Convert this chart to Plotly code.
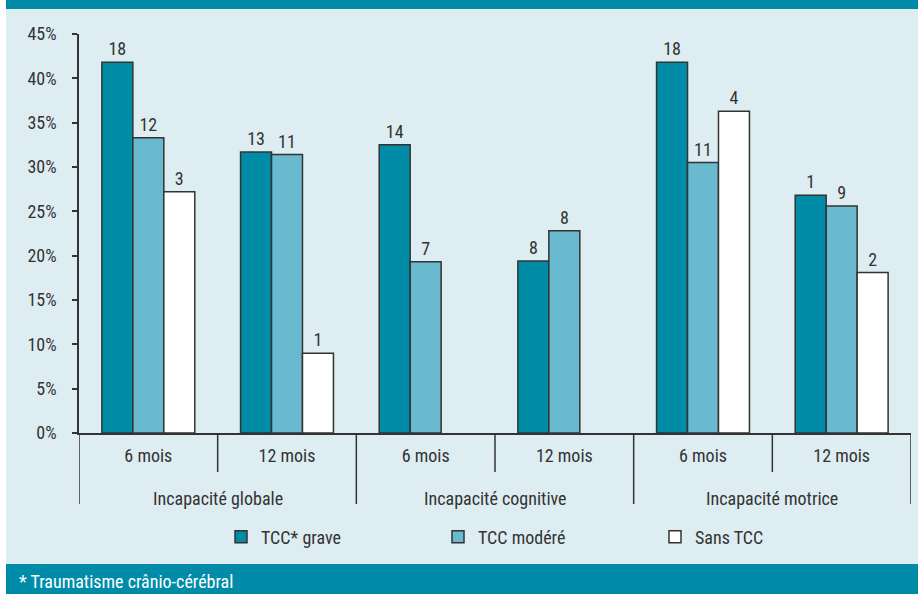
import plotly.graph_objects as go

group_names = ["Incapacité globale", "Incapacité cognitive", "Incapacité motrice"]
periods = ["6 mois", "12 mois", "6 mois", "12 mois", "6 mois", "12 mois"]
group_of = [0, 0, 1, 1, 2, 2]

series_names = ["TCC* grave", "TCC modéré", "Sans TCC"]
grave_pct = [41.8, 31.7, 32.5, 19.4, 41.8, 26.8]
modere_pct = [33.3, 31.4, 19.3, 22.8, 30.5, 25.6]
sans_pct = [27.2, 9.0, None, None, 36.3, 18.1]
grave_n = ["18", "13", "14", "8", "18", "1"]
modere_n = ["12", "11", "7", "8", "11", "9"]
sans_n = ["3", "1", "", "", "4", "2"]

footnote = "* Traumatisme crânio-cérébral"

TEAL = "#008ca8"
DARK = "#008ba6"
LIGHT = "#69b9cf"
BG = "#ddedf2"
TXT = "#333333"
FONT = "Roboto Condensed, Liberation Sans Narrow, Lato, sans-serif"
FS = 18

xs = list(range(len(periods)))

fig = go.Figure()
for name, vals, labels, color in [
    (series_names[0], grave_pct, grave_n, DARK),
    (series_names[1], modere_pct, modere_n, LIGHT),
    (series_names[2], sans_pct, sans_n, "#ffffff"),
]:
    fig.add_trace(go.Bar(
        x=xs, y=vals, name=name,
        text=labels, textposition="outside", cliponaxis=False,
        textfont=dict(size=FS, color=TXT, family=FONT),
        marker=dict(color=color, line=dict(color=TXT, width=1.5)),
    ))

W, H = 918, 594
L, R, T, B = 79, 7, 34, 161
pw, ph = W - L - R, H - T - B

def px_x(p):
    return (p - L) / pw

def px_y(p):
    return (H - B - p) / ph

shapes = [
    dict(type="rect", xref="paper", yref="paper", x0=px_x(6), x1=px_x(918),
         y0=px_y(9), y1=px_y(0), fillcolor=TEAL, line=dict(width=0), layer="below"),
    dict(type="rect", xref="paper", yref="paper", x0=px_x(6), x1=px_x(918),
         y0=px_y(564), y1=px_y(9), fillcolor=BG, line=dict(width=0), layer="below"),
    dict(type="rect", xref="paper", yref="paper", x0=px_x(6), x1=px_x(918),
         y0=px_y(594), y1=px_y(564), fillcolor=TEAL, line=dict(width=0), layer="below"),
]

# dividers between categories (short) and between groups (long)
for i in range(len(xs) + 1):
    b = i - 0.5
    is_group_edge = (i == 0 or i == len(xs) or group_of[i] != group_of[i - 1])
    shapes.append(dict(type="line", xref="x", yref="paper", x0=b, x1=b,
                       y0=0, y1=px_y(504) if is_group_edge else px_y(472),
                       line=dict(color=TXT, width=1.5)))

annotations = [dict(text=footnote, xref="paper", yref="paper", x=px_x(17), y=px_y(581),
                    xanchor="left", yanchor="middle", showarrow=False,
                    font=dict(size=FS, color="#ffffff", family=FONT))]
for g, gname in enumerate(group_names):
    members = [x for x, go_ in zip(xs, group_of) if go_ == g]
    annotations.append(dict(text=gname, xref="x", yref="paper",
                            x=sum(members) / len(members), y=px_y(498),
                            xanchor="center", yanchor="middle", showarrow=False,
                            font=dict(size=FS, color=TXT, family=FONT)))

fig.update_layout(
    width=W, height=H,
    margin=dict(l=L, r=R, t=T, b=B),
    paper_bgcolor="#ffffff", plot_bgcolor=BG,
    barmode="group", bargap=0.33, bargroupgap=0,
    font=dict(family=FONT, size=FS, color=TXT),
    shapes=shapes, annotations=annotations,
    showlegend=True,
    legend=dict(orientation="h", x=px_x(221), y=px_y(537), xanchor="left", yanchor="middle",
                bgcolor="rgba(0,0,0,0)", font=dict(size=FS, color=TXT, family=FONT),
                entrywidth=172, entrywidthmode="pixels", itemclick=False),
)
fig.update_yaxes(range=[0, 45], dtick=5, ticksuffix="%", showgrid=False, zeroline=False,
                 showline=True, linecolor=TXT, linewidth=1.5, ticks="outside", ticklen=5,
                 tickcolor=TXT, tickwidth=1.5, ticklabelstandoff=12,
                 tickfont=dict(size=FS, color=TXT, family=FONT))
fig.update_xaxes(range=[-0.5, len(xs) - 0.5], tickvals=xs, ticktext=periods,
                 showline=True, linecolor=TXT, linewidth=1.5, ticks="", showgrid=False,
                 zeroline=False, ticklabelstandoff=6,
                 tickfont=dict(size=FS, color=TXT, family=FONT))

fig.write_html("out.html", config={"displayModeBar": False},
               post_script="document.body.style.margin='0';")
